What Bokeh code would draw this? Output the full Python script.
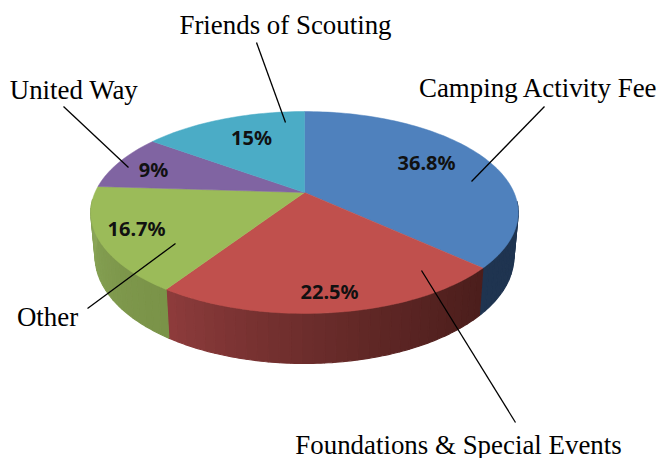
import math
from bokeh.plotting import figure
from bokeh.models import Range1d
from bokeh.embed import file_html
from bokeh.resources import INLINE

# values, clockwise from 12 o'clock
categories = ["Camping Activity Fee", "Foundations & Special Events", "Other", "United Way", "Friends of Scouting"]
shares = [36.8, 22.5, 16.7, 9, 15]
pct_labels = ["36.8%", "22.5%", "16.7%", "9%", "15%"]
top_colors = ["#4F81BD", "#C0504D", "#9BBB59", "#8064A2", "#4BACC6"]
side_from = [(31, 52, 80), (76, 30, 28), (122, 147, 72), None, None]
side_to = [(31, 52, 80), (142, 60, 60), (138, 166, 88), None, None]

# pie projection (page pixels)
CX, CY, RX, AY, K = 304.0, 192.0, 209.5, 97.0, 0.198

def rim(a_deg, drop=0.0, squeeze=1.0):
    a = math.radians(a_deg)
    d = 1 + K * math.cos(a)
    return CX + squeeze * RX * math.sin(a) / d, CY - AY * math.cos(a) / d + drop

def depth(a_deg):
    return 42 - 8 * math.cos(math.radians(a_deg))

def mix(c1, c2, t):
    return "#%02X%02X%02X" % tuple(round(u + (v - u) * t) for u, v in zip(c1, c2))

p = figure(width=659, height=458, output_backend="svg", toolbar_location=None,
           x_range=Range1d(0, 659), y_range=Range1d(458, 0), min_border=0,
           outline_line_color=None, background_fill_color="white", border_fill_color="white")
p.xaxis.visible = False
p.yaxis.visible = False
p.grid.visible = False

starts = []
acc = 0.0
for s in shares:
    starts.append(acc * 3.6)
    acc += s
ends = starts[1:] + [360.0]

# extruded side walls
for i in range(len(shares)):
    if side_from[i] is None:
        continue
    lo, hi = max(starts[i], 95.0), min(ends[i], 266.0)
    n = max(1, int((hi - lo) / 2.5))
    for j in range(n):
        a0 = lo + (hi - lo) * j / n
        a1 = lo + (hi - lo) * (j + 1) / n
        pts0 = [rim(a0 + (a1 - a0) * q / 3) for q in range(4)]
        pts1 = [rim(a1 - (a1 - a0) * q / 3, depth(a1 - (a1 - a0) * q / 3), 0.98) for q in range(4)]
        xs = [q[0] for q in pts0 + pts1]
        ys = [q[1] for q in pts0 + pts1]
        col = mix(side_from[i], side_to[i], ((j + 0.5) / n) ** 1.3)
        p.patch(xs, ys, fill_color=col, line_color=col, line_width=1.2)

# top face
for i in range(len(shares)):
    n = max(8, int((ends[i] - starts[i]) / 1.5))
    pts = [rim(starts[i] + (ends[i] - starts[i]) * j / n) for j in range(n + 1)]
    xs = [CX] + [q[0] for q in pts]
    ys = [CY] + [q[1] for q in pts]
    p.patch(xs, ys, fill_color=top_colors[i], line_color=top_colors[i], line_width=0.5)

# percent labels
pct_x = [426, 329, 136, 153, 251]
pct_y = [162, 291, 228, 169, 137]
p.text(pct_x, pct_y, text=pct_labels, text_font={"value": "Noto Sans"}, text_font_style="bold",
       text_font_size="20px", text_color="#111111", text_align="center", text_baseline="middle")

# leader lines
lead_x = [[471, 544], [421, 515], [175, 87], [128, 63], [285, 256]]
lead_y = [[181, 106], [270, 422], [243, 308], [167, 106], [122, 42]]
p.multi_line(lead_x, lead_y, line_color="black", line_width=1.3)

# category labels
cat_x = [538, 458, 47, 73.5, 285]
cat_y = [87, 444, 316, 89, 24]
p.text(cat_x, cat_y, text=categories, text_font={"value": "Liberation Serif"},
       text_font_size="26.9px", text_color="black", text_align="center", text_baseline="middle")

open("out.html", "w").write(file_html(p, INLINE))
